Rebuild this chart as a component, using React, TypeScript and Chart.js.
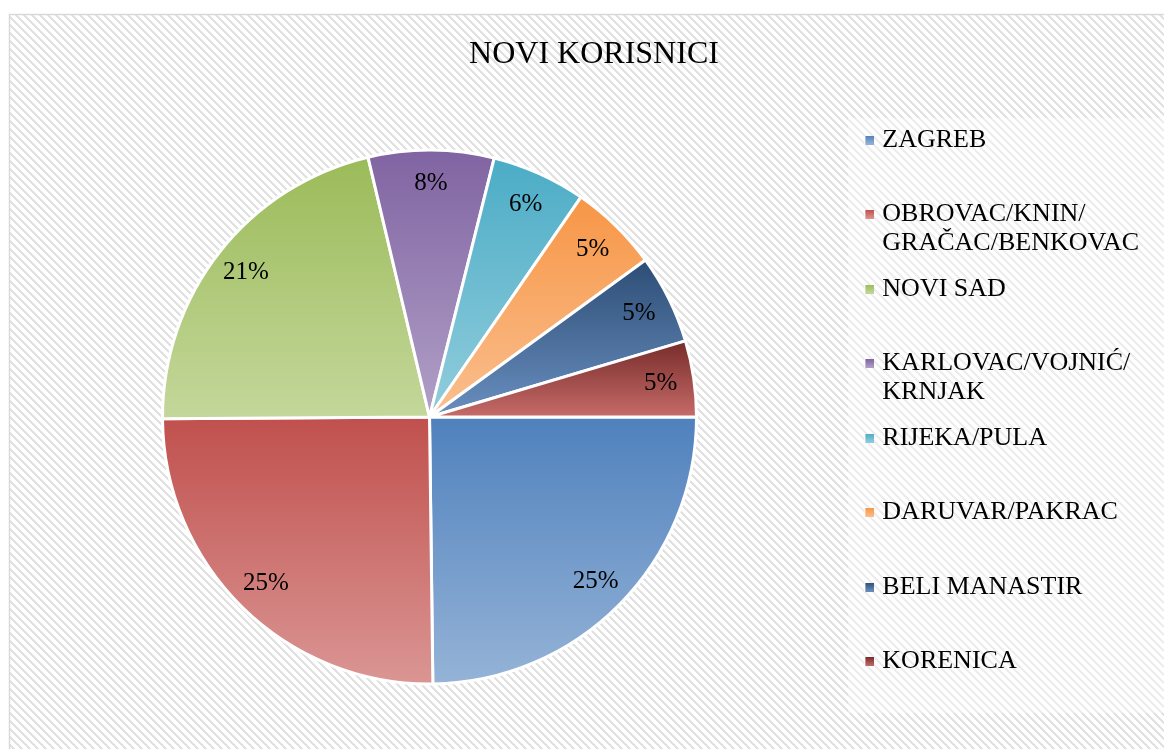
import React, { useEffect, useRef } from 'react';
import { Chart, registerables } from 'chart.js';

Chart.register(...registerables);

const TITLE = 'NOVI KORISNICI';
const categories = [
  'ZAGREB',
  'OBROVAC/KNIN/GRAČAC/BENKOVAC',
  'NOVI SAD',
  'KARLOVAC/VOJNIĆ/KRNJAK',
  'RIJEKA/PULA',
  'DARUVAR/PAKRAC',
  'BELI MANASTIR',
  'KORENICA',
];
const legendLines = [
  ['ZAGREB', ''],
  ['OBROVAC/KNIN/', 'GRAČAC/BENKOVAC'],
  ['NOVI SAD', ''],
  ['KARLOVAC/VOJNIĆ/', 'KRNJAK'],
  ['RIJEKA/PULA', ''],
  ['DARUVAR/PAKRAC', ''],
  ['BELI MANASTIR', ''],
  ['KORENICA', ''],
];
const shares = [24.8, 25.1, 21.4, 7.6, 5.7, 5.4, 5.4, 4.6];

const topColors = ['#4F81BD', '#C0504D', '#9BBB59', '#8064A2', '#4BACC6', '#F79646', '#2C4D75', '#772C2A'];
const bottomColors = ['#95B3D7', '#DA9694', '#C4D79B', '#B1A0C7', '#92CDDC', '#FABF8F', '#6A8FC0', '#C66B69'];

const SERIF = "'Liberation Serif', 'Times New Roman', serif";

function makePattern(ctx: CanvasRenderingContext2D) {
  const c = document.createElement('canvas');
  c.width = 8;
  c.height = 8;
  const g = c.getContext('2d')!;
  g.fillStyle = '#ffffff';
  g.fillRect(0, 0, 8, 8);
  g.fillStyle = '#e1e1e1';
  for (let y = 0; y < 8; y++) {
    for (let x = 0; x < 8; x++) {
      const d = (((x - y) % 8) + 8) % 8;
      if (d < 3) g.fillRect(x, y, 1, 1);
    }
  }
  return ctx.createPattern(c, 'repeat');
}

function makeIcon(top: string, bottom: string) {
  const c = document.createElement('canvas');
  c.width = 42;
  c.height = 9;
  const g = c.getContext('2d')!;
  const grad = g.createLinearGradient(0, 0, 0, 9);
  grad.addColorStop(0, top);
  grad.addColorStop(1, bottom);
  g.fillStyle = '#ffffff';
  g.fillRect(32, 0, 10, 9);
  g.fillStyle = grad;
  g.fillRect(33, 0, 9, 9);
  return c;
}

const backgroundPlugin = {
  id: 'bgPattern',
  beforeDraw(chart: any) {
    const { ctx, width, height } = chart;
    ctx.save();
    ctx.fillStyle = '#ffffff';
    ctx.fillRect(0, 0, width, height);
    const pat = makePattern(ctx);
    if (pat) {
      ctx.fillStyle = pat;
      ctx.fillRect(10, 15, width, height);
    }
    ctx.fillStyle = 'rgba(255,255,255,0.4)';
    ctx.fillRect(848, 118, width - 848, 595);
    ctx.strokeStyle = '#d9d9d9';
    ctx.lineWidth = 1.5;
    ctx.strokeRect(9.5, 14.5, width + 10, height + 10);
    ctx.restore();
  },
};

const gradientPlugin = {
  id: 'sliceGradient',
  beforeDatasetsDraw(chart: any) {
    const { ctx } = chart;
    const meta = chart.getDatasetMeta(0);
    meta.data.forEach((el: any, i: number) => {
      const p = el.getProps(['x', 'y', 'startAngle', 'endAngle', 'outerRadius'], true);
      const ys = [p.y, p.y + p.outerRadius * Math.sin(p.startAngle), p.y + p.outerRadius * Math.sin(p.endAngle)];
      const q = Math.PI / 2;
      for (let k = Math.ceil(p.startAngle / q); k * q <= p.endAngle; k++) {
        ys.push(p.y + p.outerRadius * Math.sin(k * q));
      }
      const minY = Math.min(...ys);
      const maxY = Math.max(...ys);
      const grad = ctx.createLinearGradient(0, minY, 0, maxY);
      grad.addColorStop(0, topColors[i]);
      grad.addColorStop(1, bottomColors[i]);
      el.options.backgroundColor = grad;
    });
  },
};

const labelPlugin = {
  id: 'pctLabels',
  afterDatasetsDraw(chart: any) {
    const { ctx } = chart;
    const meta = chart.getDatasetMeta(0);
    const total = shares.reduce((a, b) => a + b, 0);
    ctx.save();
    ctx.font = `25px ${SERIF}`;
    ctx.fillStyle = '#000000';
    ctx.textAlign = 'center';
    ctx.textBaseline = 'middle';
    meta.data.forEach((el: any, i: number) => {
      const p = el.getProps(['x', 'y', 'startAngle', 'endAngle', 'outerRadius'], true);
      const mid = (p.startAngle + p.endAngle) / 2;
      const r = p.outerRadius * 0.875;
      const txt = Math.round((shares[i] / total) * 100) + '%';
      ctx.fillText(txt, p.x + r * Math.cos(mid), p.y + r * Math.sin(mid));
    });
    ctx.restore();
  },
};

export default function App() {
  const ref = useRef<HTMLCanvasElement>(null);
  useEffect(() => {
    document.body.style.margin = '0';
    document.body.style.overflow = 'hidden';
    const icons = topColors.map((c, i) => makeIcon(c, bottomColors[i]));
    const chart = new Chart(ref.current as HTMLCanvasElement, {
      type: 'pie',
      data: {
        labels: categories,
        datasets: [
          {
            data: shares,
            backgroundColor: topColors,
            borderColor: '#ffffff',
            borderWidth: 3,
            radius: 267,
          } as any,
        ],
      },
      options: {
        animation: false,
        responsive: false,
        devicePixelRatio: 1,
        rotation: 90,
        layout: { padding: { left: 39, right: 15, top: 0, bottom: 19 } },
        plugins: {
          title: {
            display: true,
            text: TITLE,
            color: '#000000',
            font: { family: SERIF, size: 32, weight: 'normal', lineHeight: 1.2 },
            padding: { top: 35.8, bottom: 29.8 },
          },
          legend: {
            position: 'right',
            align: 'start',
            title: {
              display: true,
              text: '',
              font: { size: 10, lineHeight: 1 },
              padding: { top: 0, bottom: 99.7 },
            },
            labels: {
              usePointStyle: true,
              pointStyleWidth: 32,
              padding: 17.3,
              color: '#000000',
              font: { family: SERIF, size: 26, lineHeight: 1.1 },
              generateLabels: () =>
                legendLines.map((lines, i) => ({
                  text: lines as any,
                  fillStyle: topColors[i],
                  strokeStyle: 'rgba(0,0,0,0)',
                  lineWidth: 0,
                  pointStyle: icons[i] as any,
                  hidden: false,
                  index: i,
                  fontColor: '#000000',
                })),
            },
          },
          tooltip: { enabled: false },
        },
      } as any,
      plugins: [backgroundPlugin, gradientPlugin, labelPlugin],
    });
    return () => chart.destroy();
  }, []);
  return (
    <div style={{ width: 1164, height: 749 }}>
      <canvas ref={ref} width={1164} height={749} style={{ display: 'block', width: 1164, height: 749 }} />
    </div>
  );
}
